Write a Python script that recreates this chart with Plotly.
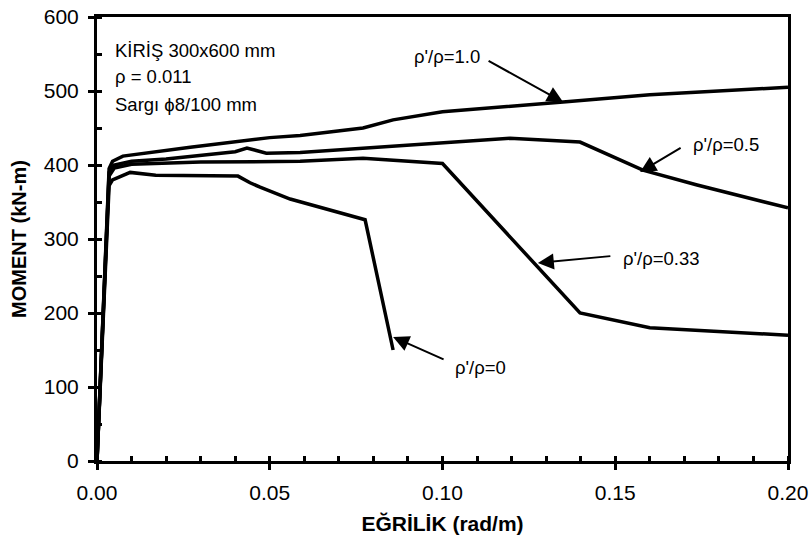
import plotly.graph_objects as go

# ---- data ----
x_r0 = [0, 0.0035, 0.0045, 0.0096, 0.017, 0.0408, 0.0443, 0.0472, 0.0559, 0.0776, 0.0857]
y_r0 = [0, 372, 380, 390, 386, 385, 376, 370, 354, 326, 150]

x_r033 = [0, 0.0035, 0.005, 0.01, 0.03, 0.0588, 0.077, 0.1, 0.1398, 0.16, 0.2]
y_r033 = [0, 385, 396, 401, 404, 405, 409, 402, 200, 180, 170]

x_r05 = [0, 0.0035, 0.005, 0.01, 0.02, 0.04, 0.0434, 0.049, 0.0588, 0.1, 0.1195, 0.1398, 0.158, 0.1737, 0.2]
y_r05 = [0, 390, 400, 405, 408, 418, 423, 416, 417, 430, 436, 431, 393, 373, 342]

x_r10 = [0, 0.0035, 0.0045, 0.0075, 0.027, 0.041, 0.05, 0.0588, 0.077, 0.0857, 0.1, 0.1349, 0.16, 0.2]
y_r10 = [0, 395, 405, 412, 424, 432, 437, 440, 450, 461, 472, 485, 495, 505]

series_labels = ["ρ'/ρ=0", "ρ'/ρ=0.33", "ρ'/ρ=0.5", "ρ'/ρ=1.0"]
# arrow target points on curves and label positions (data units)
arrow_x = [0.0857, 0.1276, 0.1572, 0.1349]
arrow_y = [167.6, 267.6, 390.5, 485]
label_x = [0.1111, 0.1635, 0.182, 0.1013]
label_y = [125.7, 274, 428, 546]
arrow_ax = [52, 74, 42, -76]
arrow_ay = [23, -7, -25, -42]

info_lines = ["KİRİŞ 300x600 mm", "ρ = 0.011", "Sargı ϕ8/100 mm"]
info_y = [555, 519, 482]

x_ticks = [0, 0.05, 0.10, 0.15, 0.20]
x_ticktext = ["0.00", "0.05", "0.10", "0.15", "0.20"]
y_ticks = [0, 100, 200, 300, 400, 500, 600]

FONT = "Liberation Sans, Arial, Helvetica, sans-serif"

fig = go.Figure()
for xs, ys in [(x_r0, y_r0), (x_r033, y_r033), (x_r05, y_r05), (x_r10, y_r10)]:
    fig.add_trace(go.Scatter(x=xs, y=ys, mode="lines",
                             line=dict(color="black", width=3.5),
                             showlegend=False, hoverinfo="skip"))

annotations = []
for i, lab in enumerate(series_labels):
    annotations.append(dict(x=arrow_x[i], y=arrow_y[i], xref="x", yref="y",
                            ax=arrow_ax[i], ay=arrow_ay[i], text="",
                            showarrow=True, arrowhead=2, arrowsize=1.6,
                            arrowwidth=2, arrowcolor="black"))
    annotations.append(dict(x=label_x[i], y=label_y[i], xref="x", yref="y",
                            text=lab, showarrow=False,
                            font=dict(family=FONT, size=18.5, color="black")))
for t, yy in zip(info_lines, info_y):
    annotations.append(dict(x=0.0046, y=yy, xref="x", yref="y", text=t,
                            xanchor="left", showarrow=False,
                            font=dict(family=FONT, size=18.5, color="black")))

fig.update_layout(
    width=811, height=547,
    margin=dict(l=97, r=23, t=17, b=86),
    paper_bgcolor="white", plot_bgcolor="white",
    font=dict(family=FONT, color="black"),
    annotations=annotations,
    xaxis=dict(range=[0, 0.2], tickvals=x_ticks, ticktext=x_ticktext,
               automargin=False,
               showgrid=False, zeroline=False,
               showline=True, linecolor="black", linewidth=3, mirror=True,
               ticks="outside", ticklen=6, tickwidth=3, tickcolor="black",
               ticklabelstandoff=5,
               minor=dict(dtick=0.01, ticks="inside", ticklen=5, tickwidth=3, tickcolor="black"),
               tickfont=dict(family=FONT, size=21, color="black"),
               title=dict(text="<b>EĞRİLİK (rad/m)</b>", standoff=14,
                          font=dict(family=FONT, size=21, color="black"))),
    yaxis=dict(range=[0, 600], tickvals=y_ticks,
               automargin=False,
               showgrid=False, zeroline=False,
               showline=True, linecolor="black", linewidth=3, mirror=True,
               ticks="outside", ticklen=6, tickwidth=3, tickcolor="black",
               ticklabelstandoff=5,
               minor=dict(dtick=50, ticks="inside", ticklen=5, tickwidth=3, tickcolor="black"),
               tickfont=dict(family=FONT, size=21, color="black"),
               title=dict(text="<b>MOMENT (kN-m)</b>", standoff=12,
                          font=dict(family=FONT, size=20, color="black"))),
)

# remove the browser's default 8px body margin so the figure sits at the page origin
fig.write_html("out.html", config={"displayModeBar": False},
               post_script="document.body.style.margin='0';")
